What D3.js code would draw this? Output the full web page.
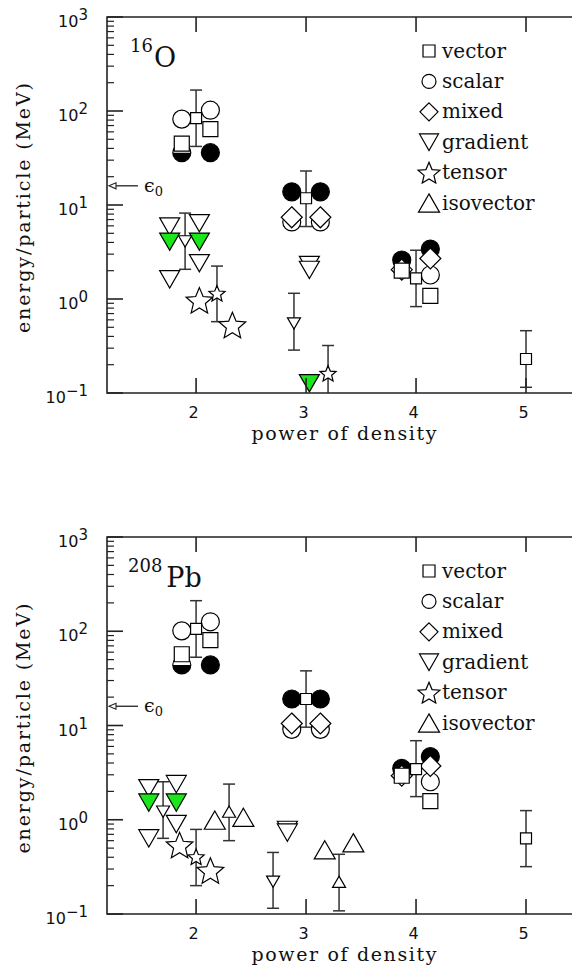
<!DOCTYPE html>
<html><head><meta charset="utf-8">
<script src="https://cdn.jsdelivr.net/npm/d3@7"></script>
<style>body{margin:0;background:#fff}</style>
</head><body>
<svg id="c" width="572" height="976" xmlns="http://www.w3.org/2000/svg"></svg>
<script>
// ---------------- data ----------------
const xTicks = [2, 3, 4, 5];
const yMajor = [0.1, 1, 10, 100, 1000];
const yMajorExp = ["\u22121", "0", "1", "2", "3"];
const legendLabels = ["vector", "scalar", "mixed", "gradient", "tensor", "isovector"];
const legendShapes = ["square", "circle", "diamond", "triDown", "star", "triUp"];
const epsilon0 = 16;
const nucleusMass = ["16", "208"];
const nucleusSymbol = ["O", "Pb"];

// 16O  ([power, energy])  and averages ([power, energy, low, high])
const o16Vector = [[1.87, 45], [2.13, 64], [3.87, 2.0], [4.13, 1.08]];
const o16VectorAvg = [[2.0, 84, 42, 167], [3.0, 11.8, 5.9, 23], [4.0, 1.66, 0.83, 3.3], [5.0, 0.23, 0.115, 0.46]];
const o16Scalar = [[1.87, 82], [2.13, 102], [2.87, 6.6], [3.13, 6.6], [4.13, 1.8]];
const o16ScalarFilled = [[2.13, 36], [2.87, 13.8], [3.13, 13.8], [3.87, 2.6], [4.13, 3.4]];
const o16ScalarHalf = [[1.87, 36]];
const o16Mixed = [[2.87, 7.4], [3.13, 7.4], [3.87, 2.05], [4.13, 2.7]];
const o16Gradient = [[1.76, 5.9], [2.03, 6.4], [2.03, 2.4], [1.76, 1.62], [3.03, 2.3], [3.03, 2.04]];
const o16GradientFilled = [[1.76, 4.07], [2.03, 4.07], [3.03, 0.127]];
const o16GradientAvg = [[1.9, 4.1, 2.07, 8.2], [2.89, 0.55, 0.286, 1.15]];
const o16Tensor = [[2.03, 0.97], [2.33, 0.53]];
const o16TensorAvg = [[2.19, 1.15, 0.574, 2.24], [3.2, 0.162, 0.05, 0.32]];
const o16Isovector = [];
const o16IsovectorAvg = [];

// 208Pb
const pbVector = [[1.87, 57], [2.13, 80.7], [3.87, 2.93], [4.13, 1.58]];
const pbVectorAvg = [[2.0, 106, 53, 211], [3.0, 19.1, 9.6, 38], [4.0, 3.45, 1.76, 6.9], [5.0, 0.635, 0.318, 1.25]];
const pbScalar = [[1.87, 101], [2.13, 126], [2.87, 9.1], [3.13, 9.1], [4.13, 2.53]];
const pbScalarFilled = [[2.13, 43.9], [2.87, 19.1], [3.13, 19.1], [3.87, 3.5], [4.13, 4.67]];
const pbScalarHalf = [[1.87, 43.9]];
const pbMixed = [[2.87, 10.5], [3.13, 10.5], [3.87, 2.93], [4.13, 3.72]];
const pbGradient = [[1.57, 2.16], [1.82, 2.39], [1.82, 0.90], [1.57, 0.635], [2.83, 0.78], [2.83, 0.73]];
const pbGradientFilled = [[1.57, 1.52], [1.82, 1.52]];
const pbGradientAvg = [[1.70, 1.22, 0.635, 2.53], [2.70, 0.22, 0.115, 0.45]];
const pbTensor = [[1.85, 0.54], [2.13, 0.29]];
const pbTensorAvg = [[2.0, 0.405, 0.2, 0.79]];
const pbIsovector = [[2.17, 0.99], [2.43, 1.06], [3.17, 0.48], [3.43, 0.57]];
const pbIsovectorAvg = [[2.30, 1.22, 0.60, 2.39], [3.30, 0.22, 0.108, 0.43]];

// ---------------- drawing ----------------
const svg = d3.select("#c");
const GREEN = "#1be61b";
const serif = "'DejaVu Serif', serif";
const sans = "'DejaVu Sans', sans-serif";

function shapePath(type, s) {
  const p = d3.path();
  if (type === "square") { p.rect(-s / 2, -s / 2, s, s); }
  else if (type === "circle") { p.moveTo(s, 0); p.arc(0, 0, s, 0, 2 * Math.PI); p.closePath(); }
  else if (type === "diamond") { p.moveTo(0, -s); p.lineTo(s, 0); p.lineTo(0, s); p.lineTo(-s, 0); p.closePath(); }
  else if (type === "triDown") { const h = s * 0.866; p.moveTo(-s / 2, -h / 2); p.lineTo(s / 2, -h / 2); p.lineTo(0, h / 2); p.closePath(); }
  else if (type === "triUp") { const h = s * 0.866; p.moveTo(0, -h / 2); p.lineTo(s / 2, h / 2); p.lineTo(-s / 2, h / 2); p.closePath(); }
  else if (type === "star") {
    const ri = s * 0.45;
    for (let i = 0; i < 10; i++) {
      const r = i % 2 === 0 ? s : ri;
      const a = -Math.PI / 2 + i * Math.PI / 5;
      const px = r * Math.cos(a), py = r * Math.sin(a) + s * 0.1;
      if (i === 0) p.moveTo(px, py); else p.lineTo(px, py);
    }
    p.closePath();
  }
  return p.toString();
}

const x = d3.scaleLinear().domain([1.19, 5.5]).range([107, 581]);
const LEFT = 107;

function drawPanel(top, bottom, idx, d) {
  const y = d3.scaleLog().domain([0.1, 1000]).range([bottom, top]);
  const g = svg.append("g");
  const clipId = "clip" + idx;
  svg.append("clipPath").attr("id", clipId).append("rect")
    .attr("x", LEFT).attr("y", top).attr("width", 572 - LEFT).attr("height", bottom - top);
  const pg = g.append("g").attr("clip-path", `url(#${clipId})`);

  // error bars
  const allAvg = [...d.vectorAvg, ...d.gradientAvg, ...d.tensorAvg, ...d.isovectorAvg];
  const eb = pg.append("g").attr("stroke", "#333").attr("stroke-width", 1.5).attr("fill", "none");
  allAvg.forEach(a => {
    const cx = x(a[0]);
    eb.append("line").attr("x1", cx).attr("x2", cx).attr("y1", y(a[2])).attr("y2", y(a[3]));
    eb.append("line").attr("x1", cx - 6).attr("x2", cx + 6).attr("y1", y(a[2])).attr("y2", y(a[2]));
    eb.append("line").attr("x1", cx - 6).attr("x2", cx + 6).attr("y1", y(a[3])).attr("y2", y(a[3]));
  });

  function marks(data, type, size, fill) {
    pg.append("g").selectAll("path").data(data).join("path")
      .attr("transform", p => `translate(${x(p[0])},${y(p[1])})`)
      .attr("d", shapePath(type, size))
      .attr("fill", fill).attr("stroke", "#000").attr("stroke-width", 1.2)
      .attr("stroke-linejoin", "miter");
  }
  marks(d.scalarFilled, "circle", 9, "#000");
  // half-filled circles
  const hg = pg.append("g").selectAll("g").data(d.scalarHalf).join("g")
    .attr("transform", p => `translate(${x(p[0])},${y(p[1])})`);
  hg.append("path").attr("d", shapePath("circle", 9)).attr("fill", "#fff").attr("stroke", "#000").attr("stroke-width", 1.2);
  hg.append("path").attr("d", "M-9,0A9,9 0 0 0 9,0Z").attr("fill", "#000");
  marks(d.scalar, "circle", 9, "#fff");
  marks(d.mixed, "diamond", 10.5, "#fff");
  marks(d.vector, "square", 15, "#fff");
  marks(d.gradient, "triDown", 20, "#fff");
  marks(d.gradientFilled, "triDown", 20, GREEN);
  marks(d.tensor, "star", 14, "#fff");
  marks(d.isovector, "triUp", 21, "#fff");
  marks(d.vectorAvg, "square", 11, "#fff");
  marks(d.gradientAvg, "triDown", 13, "#fff");
  marks(d.tensorAvg, "star", 8.5, "#fff");
  marks(d.isovectorAvg, "triUp", 13, "#fff");

  // frame
  const fr = g.append("g").attr("stroke", "#222").attr("stroke-width", 1.6).attr("fill", "none");
  fr.append("path").attr("d", `M572,${top}H${LEFT}V${bottom}H572`);
  // x ticks
  xTicks.forEach(t => {
    fr.append("line").attr("x1", x(t)).attr("x2", x(t)).attr("y1", bottom).attr("y2", bottom - 15);
    fr.append("line").attr("x1", x(t)).attr("x2", x(t)).attr("y1", top).attr("y2", top + 15);
  });
  // y ticks
  yMajor.forEach((t, i) => {
    fr.append("line").attr("x1", LEFT).attr("x2", LEFT + 16).attr("y1", y(t)).attr("y2", y(t));
    if (i < yMajor.length - 1) {
      for (let m = 2; m <= 9; m++) {
        const v = t * m;
        fr.append("line").attr("x1", LEFT).attr("x2", LEFT + 7).attr("y1", y(v)).attr("y2", y(v)).attr("stroke-width", 1.2);
      }
    }
  });
  // y tick labels
  yMajor.forEach((t, i) => {
    const tx = g.append("text").attr("x", 88).attr("y", y(t) + 10)
      .attr("text-anchor", "end").attr("font-family", sans).attr("font-size", 16).attr("fill", "#111");
    tx.append("tspan").text("10");
    tx.append("tspan").attr("dy", -7).attr("font-size", 15).text(yMajorExp[i]);
  });
  // x tick labels
  xTicks.forEach(t => {
    g.append("text").attr("x", x(t) - 2.5).attr("y", bottom + 25).attr("text-anchor", "middle")
      .attr("font-family", sans).attr("font-size", 16).attr("fill", "#111").text(t);
  });
  // axis titles
  g.append("text").attr("x", 344).attr("y", bottom + 47).attr("text-anchor", "middle")
    .attr("font-family", serif).attr("font-size", 19).attr("fill", "#111")
    .attr("textLength", 185).attr("lengthAdjust", "spacing").text("power of density");
  g.append("text").attr("transform", `translate(30,${(top + bottom) / 2 + 3}) rotate(-90)`)
    .attr("text-anchor", "middle").attr("font-family", serif).attr("font-size", 19).attr("fill", "#111")
    .attr("textLength", 250).attr("lengthAdjust", "spacing").text("energy/particle (MeV)");

  // epsilon0 arrow
  const ey = y(epsilon0);
  g.append("line").attr("x1", 115).attr("x2", 138).attr("y1", ey).attr("y2", ey).attr("stroke", "#222").attr("stroke-width", 1.3);
  g.append("path").attr("d", `M${LEFT + 2},${ey}L${LEFT + 9},${ey - 3}L${LEFT + 9},${ey + 3}Z`)
    .attr("fill", "#fff").attr("stroke", "#222").attr("stroke-width", 1.1);
  const et = g.append("text").attr("x", 144).attr("y", ey + 6).attr("font-family", serif).attr("font-size", 19).attr("fill", "#111");
  et.append("tspan").text("\u03F5");
  et.append("tspan").attr("dy", 4).attr("font-size", 13).text("0");

  // nucleus label
  const nt = g.append("text").attr("x", idx === 0 ? 130 : 128).attr("y", top + 35)
    .attr("font-family", serif).attr("fill", "#111");
  nt.append("tspan").attr("font-size", 18).text(nucleusMass[idx]);
  nt.append("tspan").attr("font-size", 27).attr("dy", 15).attr("dx", idx === 0 ? 1 : 4).text(nucleusSymbol[idx]);

  // legend
  const legendSizes = { square: 12, circle: 7, diamond: 9, triDown: 19, star: 11.5, triUp: 21 };
  legendLabels.forEach((lab, i) => {
    const ry = top + 34 + i * 30.4;
    const sh = legendShapes[i];
    g.append("path").attr("transform", `translate(429,${ry})`).attr("d", shapePath(sh, legendSizes[sh]))
      .attr("fill", "#fff").attr("stroke", "#000").attr("stroke-width", 1.2);
    g.append("text").attr("x", 442).attr("y", ry + 6.5).attr("font-family", serif).attr("font-size", 20)
      .attr("fill", "#111").text(lab);
  });
}

drawPanel(17, 393, 0, {
  vector: o16Vector, vectorAvg: o16VectorAvg, scalar: o16Scalar, scalarFilled: o16ScalarFilled,
  scalarHalf: o16ScalarHalf, mixed: o16Mixed, gradient: o16Gradient, gradientFilled: o16GradientFilled,
  gradientAvg: o16GradientAvg, tensor: o16Tensor, tensorAvg: o16TensorAvg,
  isovector: o16Isovector, isovectorAvg: o16IsovectorAvg
});
drawPanel(537, 914, 1, {
  vector: pbVector, vectorAvg: pbVectorAvg, scalar: pbScalar, scalarFilled: pbScalarFilled,
  scalarHalf: pbScalarHalf, mixed: pbMixed, gradient: pbGradient, gradientFilled: pbGradientFilled,
  gradientAvg: pbGradientAvg, tensor: pbTensor, tensorAvg: pbTensorAvg,
  isovector: pbIsovector, isovectorAvg: pbIsovectorAvg
});
</script>
</body></html>
